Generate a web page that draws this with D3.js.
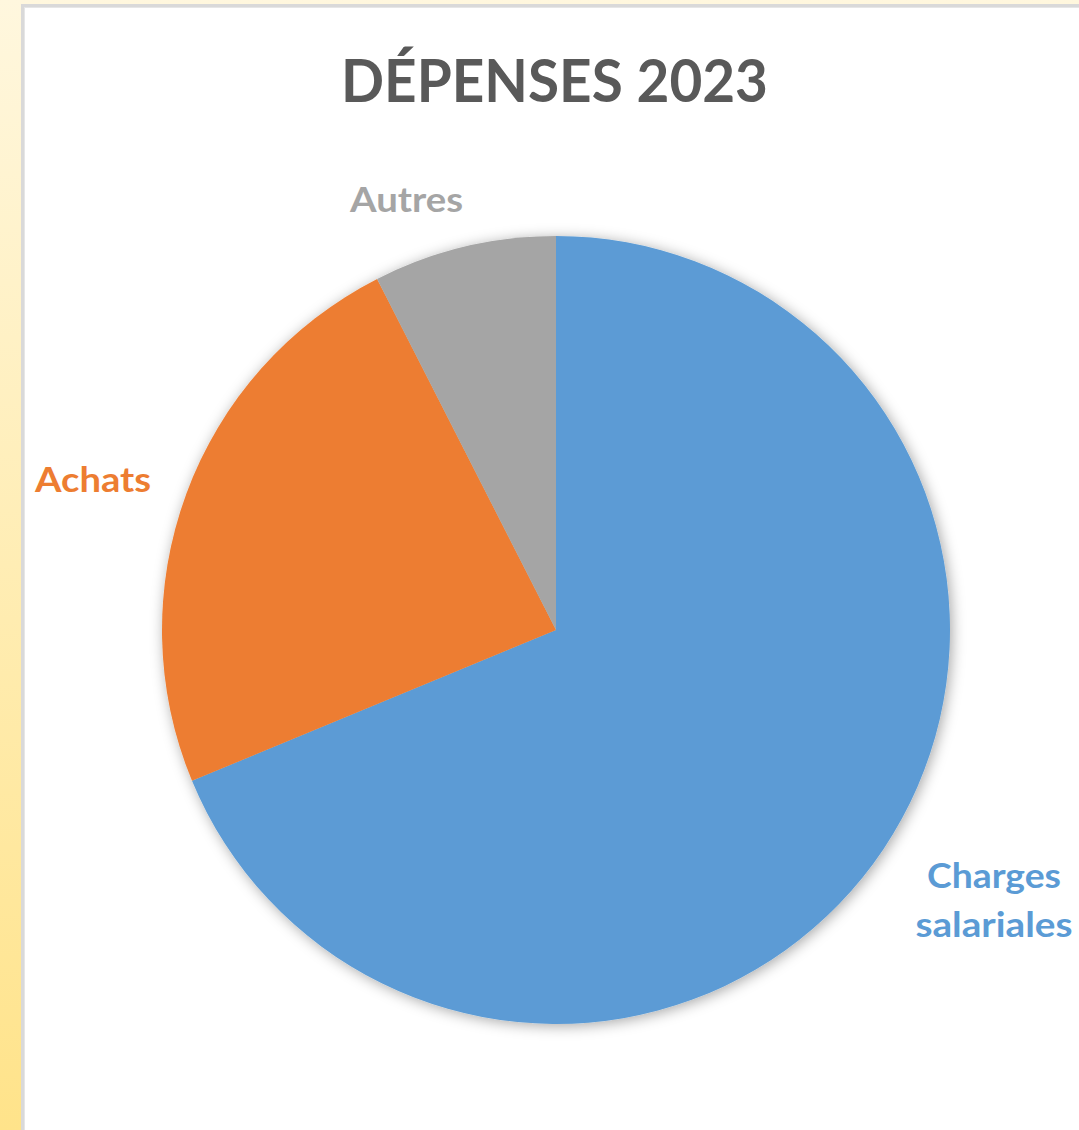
<!DOCTYPE html>
<html>
<head>
<meta charset="utf-8">
<script src="https://cdn.jsdelivr.net/npm/d3@7"></script>
<style>
  html, body { margin: 0; padding: 0; background: #fff; overflow: hidden; }
  svg { display: block; }
</style>
</head>
<body>
<svg id="chart" width="1079" height="1130"></svg>
<script>
// ---- data ----
const categories = ["Charges salariales", "Achats", "Autres"];
const values = [55000, 19000, 6000];
const colors = ["#5B9BD5", "#ED7D31", "#A5A5A5"];
const title = "DÉPENSES 2023";

const W = 1079, H = 1130;
const svg = d3.select("#chart");
const defs = svg.append("defs");

const bg = defs.append("linearGradient").attr("id", "bgGrad")
  .attr("x1", 0).attr("y1", 0).attr("x2", 0).attr("y2", 1);
bg.append("stop").attr("offset", "0%").attr("stop-color", "#FFF7DE");
bg.append("stop").attr("offset", "100%").attr("stop-color", "#FFE38A");

const f = defs.append("filter").attr("id", "shadow")
  .attr("x", "-10%").attr("y", "-10%").attr("width", "120%").attr("height", "120%");
f.append("feDropShadow").attr("dx", 2).attr("dy", 2).attr("stdDeviation", 7)
  .attr("flood-color", "#000").attr("flood-opacity", 0.35);

svg.append("rect").attr("width", W).attr("height", H).attr("fill", "url(#bgGrad)");
svg.append("rect").attr("x", 21).attr("y", 4).attr("width", W).attr("height", H).attr("fill", "#D9D9D9");
svg.append("rect").attr("x", 24).attr("y", 7).attr("width", W).attr("height", H).attr("fill", "#E6E6E6");
svg.append("rect").attr("x", 25).attr("y", 8).attr("width", W).attr("height", H).attr("fill", "#FFFFFF");

const font = "Lato, 'Open Sans', 'DejaVu Sans', sans-serif";

function fitText(sel, width) {
  sel.each(function () {
    const len = this.getComputedTextLength();
    if (len > 0) d3.select(this).attr("textLength", width).attr("lengthAdjust", "spacingAndGlyphs");
  });
}

// title
const t = svg.append("text")
  .attr("x", 341).attr("y", 102)
  .attr("font-family", font).attr("font-weight", 700)
  .attr("font-size", 60).attr("fill", "#595959")
  .text(title);
fitText(t, 427);

// pie
const cx = 556, cy = 630, r = 394;
const pie = d3.pie().sort(null).value(d => d.v);
const arc = d3.arc().innerRadius(0).outerRadius(r);
const data = categories.map((c, i) => ({ c, v: values[i], col: colors[i] }));

const g = svg.append("g").attr("transform", `translate(${cx},${cy})`);
g.append("g").attr("filter", "url(#shadow)")
  .selectAll("path").data(pie(data)).join("path")
  .attr("d", arc).attr("fill", d => d.data.col);

// labels
const labelSpecs = [
  { lines: ["Charges", "salariales"], x: 994, ys: [888, 937], anchor: "middle", widths: [134, 157] },
  { lines: ["Achats"], x: 35, ys: [492], anchor: "start", widths: [116] },
  { lines: ["Autres"], x: 350, ys: [212], anchor: "start", widths: [113] }
];
labelSpecs.forEach((s, i) => {
  s.lines.forEach((ln, j) => {
    const tx = svg.append("text")
      .attr("x", s.x).attr("y", s.ys[j])
      .attr("text-anchor", s.anchor)
      .attr("font-family", font).attr("font-weight", 700)
      .attr("font-size", 35).attr("fill", colors[i])
      .text(ln);
    fitText(tx, s.widths[j]);
  });
});
</script>
</body>
</html>
